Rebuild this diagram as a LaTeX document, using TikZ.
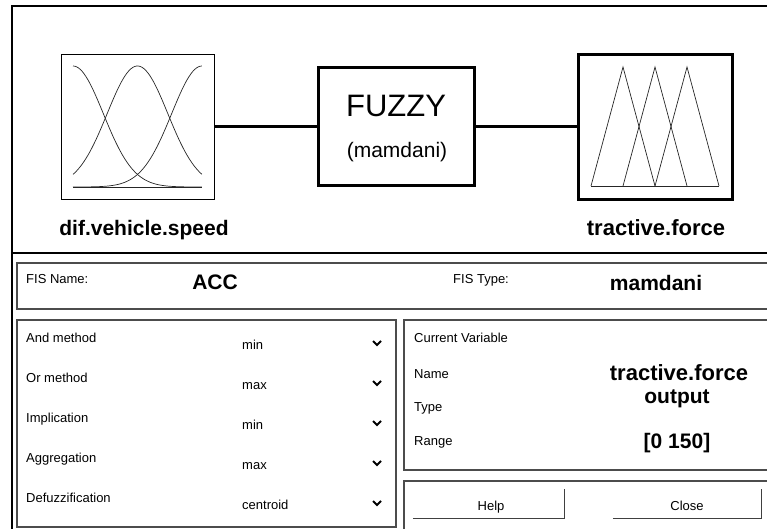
\documentclass[tikz,border=0pt]{standalone}
\usepackage{fontspec}
\setmainfont{Liberation Sans}
\usetikzlibrary{calc}

\def\fsz#1{\fontsize{#1}{#1}\selectfont}

\tikzset{
	frame/.style={draw=black, line width=1.8pt},
	panel/.style={draw=black!70, line width=1.2pt},
	mfline/.style={draw=black!85, line width=0.7pt},
	link/.style={draw=black, line width=3pt},
	small/.style={font=\fsz{13}, anchor=base west, inner sep=0pt},
	value/.style={font=\fsz{13}, anchor=base west, inner sep=0pt},
	bigval/.style={font=\bfseries\fsz{21}, anchor=base, inner sep=0pt},
	shade/.style={draw=black!75, line width=1.3pt},
	chev/.style={draw=black, line width=1.8pt}
}

\begin{document}
\begin{tikzpicture}[x=1pt, y=-1pt]
	\useasboundingbox (0,0) rectangle (767,529);
	\clip (0,0) rectangle (767,529);
	%%%%% START %%%%%
	% window frame and divider
	\draw[frame] (12,545) |- (780,6);
	\draw[frame] (12,253) -- (780,253);

	% system diagram
	\node[draw, line width=1pt, minimum width=153pt, minimum height=145pt, inner sep=0pt] (inbox) at (138,127) {};
	\node[draw, line width=3pt, minimum width=154pt, minimum height=145pt, inner sep=0pt] (outbox) at (655.5,127) {};
	\node[draw, line width=3pt, minimum width=156pt, minimum height=118pt, inner sep=0pt] (fis) at (396.5,127) {};
	\node[font=\fsz{31}, anchor=base, inner sep=0pt] (fuzzy) at (396,117) {FUZZY};
	\node[font=\fsz{21}, anchor=base, inner sep=0pt] (fistype) at (397,158) {(mamdani)};
	\draw[link] (inbox.east) -- (fis.west);
	\draw[link] (fis.east) -- (outbox.west);

	% gaussian sets of the input
	\foreach \c in {0, 0.5, 1}
		\draw[mfline] plot[domain=0:1, samples=70, smooth] ({73+129*\x}, {187-121*exp(-((\x-\c)/0.235)^2/2)});
	\draw[mfline] (73,187) -- (202,187);

	% triangular sets of the output
	\draw[mfline] (591,186) -- (719,186);
	\foreach \p in {623, 655, 687}
		\draw[mfline] (\p-32,186) -- (\p,67) -- (\p+32,186);

	\node[font=\bfseries\fsz{21}, anchor=base, inner sep=0pt] (inname) at (144,235) {dif.vehicle.speed};
	\node[font=\bfseries\fsz{22}, anchor=base, inner sep=0pt] (outname) at (656,235) {tractive.force};

	% panels
	\draw[panel] (17,263) rectangle (780,309);
	\draw[panel] (17,320) rectangle (396,527);
	\draw[panel] (404,320) rectangle (780,470);
	\draw[panel] (404,481) rectangle (780,545);

	\node[small] (fisnamelbl) at (26,283) {FIS Name:};
	\node[bigval] (fisname) at (215,289) {ACC};
	\node[small] (fistypelbl) at (453,283) {FIS Type:};
	\node[bigval] (fistypeval) at (656,290) {mamdani};

	% method rows
	\foreach \i/\lbl/\val in {0/And method/min, 1/Or method/max, 2/Implication/min, 3/Aggregation/max, 4/Defuzzification/centroid} {
		\node[small] (lbl\i) at (26,342+40*\i) {\lbl};
		\node[value] (val\i) at (242,349+40*\i) {\val};
		\coordinate (arr\i) at (377,343+40*\i);
		\draw[chev] ([shift={(-4,-2)}]arr\i) -- ([shift={(0,2)}]arr\i) -- ([shift={(4,-2)}]arr\i);
	}

	% current variable
	\node[small] (curvar) at (414,342) {Current Variable};
	\node[small] (namelbl) at (414,378) {Name};
	\node[small] (typelbl) at (414,411) {Type};
	\node[small] (rangelbl) at (414,445) {Range};
	\node[bigval, font=\bfseries\fsz{22}] (varname) at (679,380) {tractive.force};
	\node[bigval] (vartype) at (677,403) {output};
	\node[bigval] (varrange) at (677,448) {[0 150]};

	% buttons
	\node[inner sep=0pt, minimum width=151pt, minimum height=29pt] (helpbtn) at (488.5,503.5) {};
	\node[inner sep=0pt, minimum width=148pt, minimum height=29pt] (closebtn) at (687,503.5) {};
	\draw[shade] (helpbtn.south west) -- (helpbtn.south east) -- (helpbtn.north east);
	\draw[shade] (closebtn.south west) -- (closebtn.south east) -- (closebtn.north east);
	\node[font=\fsz{13}, anchor=base, inner sep=0pt] (helptxt) at (491,510) {Help};
	\node[font=\fsz{13}, anchor=base, inner sep=0pt] (closetxt) at (687,510) {Close};
	%%%%% END %%%%%
\end{tikzpicture}
\end{document}
